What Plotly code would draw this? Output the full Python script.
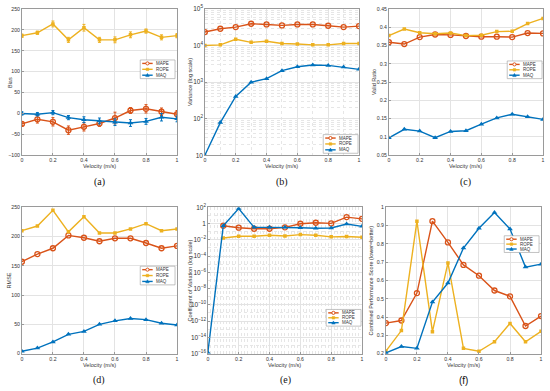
import plotly.graph_objects as go

velocity = [0, 0.1, 0.2, 0.3, 0.4, 0.5, 0.6, 0.7, 0.8, 0.9, 1.0]
methods = ["MAPE", "ROPE", "MAQ"]

# (a) Bias with error bars
bias_mape = [-25, -14, -20, -40, -32, -24, -11, 7, 11, 4, -2]
bias_rope = [186, 193, 214, 176, 205, 176, 176, 188, 197, 182, 186]
bias_maq = [0, -2, 2, -10, -15, -18, -21, -23, -19, -9, -13]
bias_mape_err = [4, 9, 10, 10, 10, 7, 14, 7, 10, 9, 9]
bias_rope_err = [4, 4, 7, 6, 8, 6, 7, 7, 5, 6, 5]
bias_maq_err = [4, 4, 5, 5, 7, 7, 8, 8, 7, 9, 7]

# (b) Variance (log scale)
var_mape = [23300, 28700, 31800, 39300, 37600, 35400, 37600, 37600, 34600, 31800, 33900]
var_rope = [10000, 10400, 14800, 12200, 13000, 11300, 11000, 10400, 10400, 11300, 11300]
var_maq = [10, 78, 405, 990, 1240, 2050, 2630, 2920, 2860, 2570, 2230]

# (c) Valid Ratio
vr_mape = [0.359, 0.354, 0.373, 0.380, 0.379, 0.376, 0.374, 0.374, 0.373, 0.384, 0.383]
vr_rope = [0.377, 0.395, 0.385, 0.382, 0.384, 0.377, 0.378, 0.388, 0.389, 0.410, 0.424]
vr_maq = [0.0975, 0.121, 0.116, 0.098, 0.115, 0.117, 0.135, 0.152, 0.162, 0.155, 0.148]

# (d) RMSE
rmse_mape = [157, 170, 180, 202, 198, 192, 197, 197, 189, 180, 184]
rmse_rope = [210, 218, 245, 208, 234, 206, 206, 213, 222, 210, 213]
rmse_maq = [4, 9.5, 20, 33, 38, 50, 56, 60, 58, 52, 49]

# (e) Coefficient of Variation (log scale)
cv_mape = [None, 0.54, 0.31, 0.23, 0.23, 0.34, 0.95, 1.26, 1.05, 6.2, 3.8]
cv_rope = [None, 0.017, 0.027, 0.027, 0.036, 0.030, 0.044, 0.036, 0.023, 0.025, 0.021]
cv_maq = [1.4e-16, 0.54, 69, 0.34, 0.34, 0.34, 0.31, 0.26, 0.28, 0.87, 0.45]

# (f) Combined Performance Score
cps_mape = [0.367, 0.381, 0.531, 0.924, 0.808, 0.685, 0.626, 0.545, 0.513, 0.351, 0.405]
cps_rope = [0.214, 0.326, 0.924, 0.320, 0.696, 0.229, 0.213, 0.265, 0.365, 0.265, 0.322]
cps_maq = [0.204, 0.239, 0.229, 0.482, 0.586, 0.777, 0.885, 0.971, 0.881, 0.673, 0.689]

colors = {"MAPE": "#D95319", "ROPE": "#EDB120", "MAQ": "#0072BD"}
markers = {
    "MAPE": dict(symbol="circle-open", size=5, line=dict(width=1.3)),
    "ROPE": dict(symbol="square", size=3.5),
    "MAQ": dict(symbol="triangle-up", size=5),
}

W, H = 550, 391
FONT = "Liberation Sans, Arial, sans-serif"
SERIF = "Liberation Serif, Times New Roman, serif"
TXT = "#333333"
AXC = "#9a9a9a"


def PX(x):
    return x / W


def PY(y):
    return 1 - y / H


fig = go.Figure()

# panel boxes in pixels: (left, right, top, bottom)
panels = [
    (21, 177, 5, 154),
    (205, 360, 5, 154),
    (390, 545, 5, 154),
    (21, 177, 207, 356),
    (208, 363, 207, 356),
    (387, 543, 207, 356),
]

datasets = [
    (bias_mape, bias_rope, bias_maq),
    (var_mape, var_rope, var_maq),
    (vr_mape, vr_rope, vr_maq),
    (rmse_mape, rmse_rope, rmse_maq),
    (cv_mape, cv_rope, cv_maq),
    (cps_mape, cps_rope, cps_maq),
]
errs = (bias_mape_err, bias_rope_err, bias_maq_err)

ytitles = ["Bias", "Variance (log scale)", "Valid Ratio", "RMSE",
           "Coefficient of Variation (log scale)",
           "Combined Performance Score (lower=better)"]
ytitle_x = [9, 190, 375, 9, 190, 372]
xtitle_y = [165, 165, 165, 368, 368, 368]

# legend boxes: (left_px, top_px, height_px)
legbox = [
    (140, 57, 19),
    (324, 133, 19),
    (509, 58, 18),
    (140, 267, 19),
    (327, 311, 17),
    (506, 236, 17),
]

captions = [("(a)", 99, 181, SERIF), ("(b)", 283, 181, SERIF),
            ("(c)", 467, 181, SERIF), ("(d)", 99, 383, SERIF),
            ("(e)", 286, 383, SERIF), ("(f)", 465, 383, FONT)]

shapes = []
annotations = []

for i, (series, (l, r, t, b)) in enumerate(zip(datasets, panels)):
    k = i + 1
    xa = "x" if k == 1 else f"x{k}"
    ya = "y" if k == 1 else f"y{k}"
    for j, (m, vals) in enumerate(zip(methods, series)):
        tr = dict(
            x=velocity, y=vals, name=m, mode="lines+markers",
            line=dict(color=colors[m], width=1.4),
            marker=dict(color=colors[m], **markers[m]),
            xaxis=xa, yaxis=ya, showlegend=False,
        )
        if k == 1:
            tr["error_y"] = dict(type="data", array=errs[j], color=colors[m],
                                 thickness=1, width=1.5)
        fig.add_trace(go.Scatter(**tr))

    axkey = "xaxis" if k == 1 else f"xaxis{k}"
    aykey = "yaxis" if k == 1 else f"yaxis{k}"
    common = dict(showline=True, linecolor=AXC, linewidth=0.8, mirror=True,
                  showgrid=True, gridcolor="#e3e3e3", gridwidth=0.6,
                  ticks="inside", ticklen=2, tickcolor=AXC,
                  tickfont=dict(size=5.2, color=TXT, family=FONT),
                  zeroline=False)
    xdict = dict(domain=[l / W, r / W], anchor=ya, range=[0, 1], dtick=0.2,
                 ticklabelstandoff=0, **common)
    if k in (2, 5):
        xdict["minor"] = dict(showgrid=True, dtick=0.1 if k == 2 else 0.02,
                              gridcolor="#e6e6e6", griddash="dot", gridwidth=0.6)
    ydict = dict(domain=[1 - b / H, 1 - t / H], anchor=xa, **common)
    if k == 1:
        ydict.update(range=[-100, 250], dtick=50)
    elif k == 2:
        ydict.update(type="log", range=[1, 5], dtick=1, exponentformat="power",
                     minor=dict(showgrid=True, gridcolor="#e6e6e6", griddash="dot", gridwidth=0.6))
    elif k == 3:
        ydict.update(range=[0.05, 0.45], dtick=0.05)
    elif k == 4:
        ydict.update(range=[0, 250], dtick=50)
    elif k == 5:
        ydict.update(type="log", range=[-16, 2], dtick=2, exponentformat="power",
                     minor=dict(showgrid=True, gridcolor="#e6e6e6", griddash="dot", gridwidth=0.6))
    elif k == 6:
        ydict.update(range=[0.2, 1], dtick=0.1)
    fig.layout[axkey] = xdict
    fig.layout[aykey] = ydict

    # axis titles
    annotations.append(dict(x=PX((l + r) / 2), y=PY(xtitle_y[i]), xref="paper", yref="paper",
                            xanchor="center", yanchor="middle",
                            text="Velocity (m/s)", showarrow=False,
                            font=dict(size=5.5, color=TXT, family=FONT)))
    annotations.append(dict(x=PX(ytitle_x[i]), y=PY((t + b) / 2), xref="paper", yref="paper",
                            xanchor="center", yanchor="middle",
                            text=ytitles[i], showarrow=False, textangle=-90,
                            font=dict(size=5.5, color=TXT, family=FONT)))

    # custom compact legend
    lx, ly, lh = legbox[i]
    lw = 35
    shapes.append(dict(type="rect", xref="paper", yref="paper",
                       x0=PX(lx), x1=PX(lx + lw), y0=PY(ly + lh), y1=PY(ly),
                       fillcolor="white", line=dict(color=AXC, width=0.6), layer="above"))
    step = (lh - 7) / 2.0
    for j, m in enumerate(methods):
        ry = ly + 3.5 + j * step
        c = colors[m]
        shapes.append(dict(type="line", xref="paper", yref="paper",
                           x0=PX(lx + 2), x1=PX(lx + 12.5), y0=PY(ry), y1=PY(ry),
                           line=dict(color=c, width=1.4), layer="above"))
        mx = lx + 7.25
        if m == "MAPE":
            shapes.append(dict(type="circle", xref="paper", yref="paper",
                               x0=PX(mx - 1.6), x1=PX(mx + 1.6), y0=PY(ry + 1.6), y1=PY(ry - 1.6),
                               fillcolor="white", line=dict(color=c, width=1), layer="above"))
        elif m == "ROPE":
            shapes.append(dict(type="rect", xref="paper", yref="paper",
                               x0=PX(mx - 1.3), x1=PX(mx + 1.3), y0=PY(ry + 1.3), y1=PY(ry - 1.3),
                               fillcolor=c, line=dict(color=c, width=0.5), layer="above"))
        else:
            path = (f"M {PX(mx - 1.8)},{PY(ry + 1.4)} L {PX(mx + 1.8)},{PY(ry + 1.4)} "
                    f"L {PX(mx)},{PY(ry - 1.8)} Z")
            shapes.append(dict(type="path", xref="paper", yref="paper", path=path,
                               fillcolor=c, line=dict(color=c, width=0.5), layer="above"))
        annotations.append(dict(x=PX(lx + 13.5), y=PY(ry), xref="paper", yref="paper",
                                xanchor="left", yanchor="middle", text=m, showarrow=False,
                                font=dict(size=4.5, color=TXT, family=FONT)))

for text, cx, cy, fam in captions:
    annotations.append(dict(x=PX(cx), y=PY(cy), xref="paper", yref="paper",
                            xanchor="center", yanchor="middle",
                            text=text, showarrow=False,
                            font=dict(size=10, color="#111111", family=fam)))

fig.update_layout(width=W, height=H, margin=dict(l=0, r=0, t=0, b=0),
                  paper_bgcolor="white", plot_bgcolor="white", showlegend=False,
                  font=dict(family=FONT), shapes=shapes, annotations=annotations)

fig.write_html("out.html", config={"displayModeBar": False},
               post_script="document.body.style.margin='0';document.body.style.overflow='hidden';")
